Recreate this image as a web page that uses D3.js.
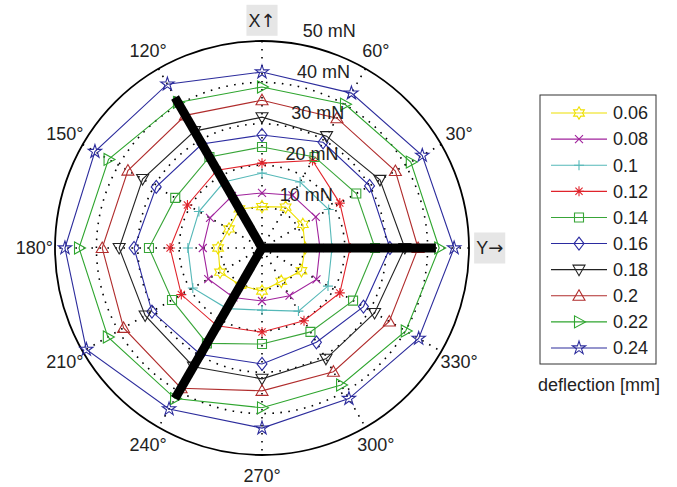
<!DOCTYPE html>
<html>
<head>
<meta charset="utf-8">
<script src="https://cdn.jsdelivr.net/npm/d3@7"></script>
<style>
  body { margin: 0; background: #fff; }
  text { font-family: "Liberation Sans", Arial, sans-serif; fill: #222; }
</style>
</head>
<body>
<div id="chart"></div>
<script>
// angles of the measurement directions (deg, counter-clockwise from Y axis)
const angles = [0, 30, 60, 90, 120, 150, 180, 210, 240, 270, 300, 330];

// force magnitude in mN for each deflection
const f006 = [10.4, 11.4, 11.4, 10.0, 10.9, 9.2, 10.6, 11.7, 10.4, 10.4, 9.3, 11.0];
const f008 = [14.0, 15.0, 14.7, 13.3, 14.5, 14.5, 14.3, 15.0, 13.8, 12.8, 13.3, 15.2];
const f010 = [16.9, 18.6, 18.4, 18.1, 18.4, 17.6, 17.9, 19.3, 16.9, 15.0, 17.6, 18.4];
const f012 = [21.3, 21.7, 24.4, 20.5, 21.7, 20.8, 22.2, 22.5, 21.7, 20.3, 20.3, 21.7];
const f014 = [27.3, 26.3, 25.4, 24.4, 25.4, 24.2, 27.3, 25.1, 26.6, 23.2, 23.4, 25.4];
const f016 = [30.9, 30.0, 29.5, 27.3, 29.0, 29.5, 30.9, 30.7, 29.7, 28.0, 26.3, 28.3];
const f018 = [34.5, 32.9, 31.2, 31.6, 32.6, 33.3, 34.5, 32.6, 33.1, 31.6, 30.9, 31.4];
const f020 = [37.7, 37.2, 36.2, 35.7, 37.0, 37.4, 38.6, 38.6, 39.1, 34.5, 34.5, 35.5];
const f022 = [42.8, 41.5, 40.1, 38.9, 40.6, 42.8, 44.2, 43.0, 42.0, 38.6, 38.2, 40.1];
const f024 = [46.4, 44.7, 43.2, 42.5, 45.7, 46.6, 47.6, 49.0, 44.9, 43.5, 42.0, 43.7];

const deflections = ["0.06", "0.08", "0.1", "0.12", "0.14", "0.16", "0.18", "0.2", "0.22", "0.24"];
const forces = [f006, f008, f010, f012, f014, f016, f018, f020, f022, f024];
const colors = ["#eee000", "#a0229c", "#55b8b8", "#e0232b", "#38a538", "#2b2ba0",
                "#222222", "#b02c2c", "#2ea52e", "#2c2c9c"];
const markers = ["hexagram", "x", "plus", "asterisk", "square", "diamond",
                 "triDown", "triUp", "triRight", "pentagram"];

const ringTicks = [10, 20, 30, 40];
const rMax = 50;
const angleTicks = [30, 60, 120, 150, 180, 210, 240, 270, 300, 330];
const axisLabels = [{ a: 0, t: "Y", arrow: "\u2192" }, { a: 90, t: "X", arrow: "\u2191" }];
const sensorArms = [0, 120, 240];
const armLength = 42;

const width = 677, height = 487;
const cx = 262, cy = 248, R = 207;

const svg = d3.select("#chart").append("svg")
  .attr("width", width).attr("height", height);

const g = svg.append("g").attr("transform", `translate(${cx},${cy})`);

const r = d3.scaleLinear().domain([0, rMax]).range([0, R]);
const toRad = a => (90 - a) * Math.PI / 180;   // d3 radial: clockwise from 12 o'clock

// grid
g.selectAll(".ring").data(ringTicks).enter().append("circle")
  .attr("r", d => r(d))
  .attr("fill", "none").attr("stroke", "#000")
  .attr("stroke-width", 1.6).attr("stroke-dasharray", "1.6,6.4");

[0, 30, 60, 90, 120, 150].forEach(a => {
  const p1 = d3.pointRadial(toRad(a), R), p2 = d3.pointRadial(toRad(a + 180), R);
  g.append("line")
    .attr("x1", p1[0]).attr("y1", p1[1]).attr("x2", p2[0]).attr("y2", p2[1])
    .attr("stroke", "#000").attr("stroke-width", 1.6).attr("stroke-dasharray", "1.6,6.4");
});

g.append("circle").attr("r", r(rMax))
  .attr("fill", "none").attr("stroke", "#000").attr("stroke-width", 1.8);

// markers
function markerPath(type) {
  const pts = [];
  switch (type) {
    case "hexagram":
      for (let i = 0; i < 12; i++) {
        const rr = i % 2 ? 6.2 / Math.sqrt(3) : 6.2, t = -Math.PI / 2 + i * Math.PI / 6;
        pts.push([rr * Math.cos(t), rr * Math.sin(t)]);
      }
      return "M" + pts.join("L") + "Z";
    case "pentagram":
      for (let i = 0; i < 10; i++) {
        const rr = i % 2 ? 7 * 0.382 : 7, t = -Math.PI / 2 + i * Math.PI / 5;
        pts.push([rr * Math.cos(t), rr * Math.sin(t)]);
      }
      return "M" + pts.join("L") + "Z";
    case "x": return "M-4,-4L4,4M-4,4L4,-4";
    case "plus": return "M-5,0L5,0M0,-5L0,5";
    case "asterisk": return "M-5,0L5,0M0,-5L0,5M-3.6,-3.6L3.6,3.6M-3.6,3.6L3.6,-3.6";
    case "square": return "M-4.5,-4.5L4.5,-4.5L4.5,4.5L-4.5,4.5Z";
    case "diamond": return "M0,-6.5L5,0L0,6.5L-5,0Z";
    case "triUp": return "M0,-6L6,4.5L-6,4.5Z";
    case "triDown": return "M0,6L6,-4.5L-6,-4.5Z";
    case "triRight": return "M6.5,0L-4.5,-6L-4.5,6Z";
  }
}

// data
const line = d3.lineRadial()
  .angle(d => toRad(d.a))
  .radius(d => r(d.v))
  .curve(d3.curveLinearClosed);

forces.forEach((vals, i) => {
  const pts = vals.map((v, j) => ({ a: angles[j], v }));
  const s = g.append("g");
  s.append("path").datum(pts)
    .attr("d", line)
    .attr("fill", "none").attr("stroke", colors[i]).attr("stroke-width", 1.1);
  s.selectAll("path.m").data(pts).enter().append("path")
    .attr("class", "m")
    .attr("transform", d => `translate(${d3.pointRadial(toRad(d.a), r(d.v))})`)
    .attr("d", markerPath(markers[i]))
    .attr("fill", "none").attr("stroke", colors[i]).attr("stroke-width", 1.1);
});

// sensor arms
sensorArms.forEach(a => {
  const p = d3.pointRadial(toRad(a), r(armLength));
  g.append("line")
    .attr("x1", 0).attr("y1", 0).attr("x2", p[0]).attr("y2", p[1])
    .attr("stroke", "#000").attr("stroke-width", 9);
});
g.append("circle").attr("r", 4.5).attr("fill", "#000");

// ring labels
g.selectAll(".rlab").data(ringTicks.concat([rMax])).enter().append("text")
  .attr("x", d => r(d) * Math.cos(82 * Math.PI / 180) + 12)
  .attr("y", d => -r(d) * Math.sin(82 * Math.PI / 180) - 6)
  .attr("font-size", 18)
  .text(d => `${d} mN`);

// angle labels
g.selectAll(".alab").data(angleTicks).enter().append("text")
  .attr("x", d => d3.pointRadial(toRad(d), R * 1.1)[0])
  .attr("y", d => d3.pointRadial(toRad(d), R * 1.1)[1])
  .attr("text-anchor", "middle").attr("dy", "0.35em")
  .attr("font-size", 18)
  .text(d => `${d}\u00b0`);

axisLabels.forEach(d => {
  const p = d3.pointRadial(toRad(d.a), R * 1.1);
  const lg = g.append("g").attr("transform", `translate(${p})`);
  const t = lg.append("text").attr("text-anchor", "middle").attr("dy", "0.35em")
    .attr("font-size", 18);
  t.append("tspan").text(d.t);
  t.append("tspan").style("font-family", "'DejaVu Sans'").text(d.arrow);
  const bb = t.node().getBBox();
  lg.insert("rect", "text")
    .attr("x", bb.x - 2).attr("y", -15.5).attr("width", bb.width + 4).attr("height", 31)
    .attr("fill", "#e6e6e6");
});

// legend
const legend = svg.append("g").attr("transform", "translate(540,95)");
legend.append("rect").attr("width", 116).attr("height", 269)
  .attr("fill", "#fff").attr("stroke", "#333").attr("stroke-width", 1);

const ly = d3.scalePoint().domain(deflections).range([18, 253]);
const items = legend.selectAll(".item").data(deflections).enter().append("g")
  .attr("transform", d => `translate(0,${ly(d)})`);
items.append("line").attr("x1", 11).attr("x2", 67)
  .attr("stroke", (d, i) => colors[i]).attr("stroke-width", 1.1);
items.append("path").attr("transform", "translate(39,0)")
  .attr("d", (d, i) => markerPath(markers[i]))
  .attr("fill", "none").attr("stroke", (d, i) => colors[i]).attr("stroke-width", 1.1);
items.append("text").attr("x", 73).attr("dy", "0.35em")
  .attr("font-size", 18).text(d => d);

svg.append("text").attr("x", 599).attr("y", 391)
  .attr("text-anchor", "middle").attr("font-size", 18)
  .text("deflection [mm]");
</script>
</body>
</html>
